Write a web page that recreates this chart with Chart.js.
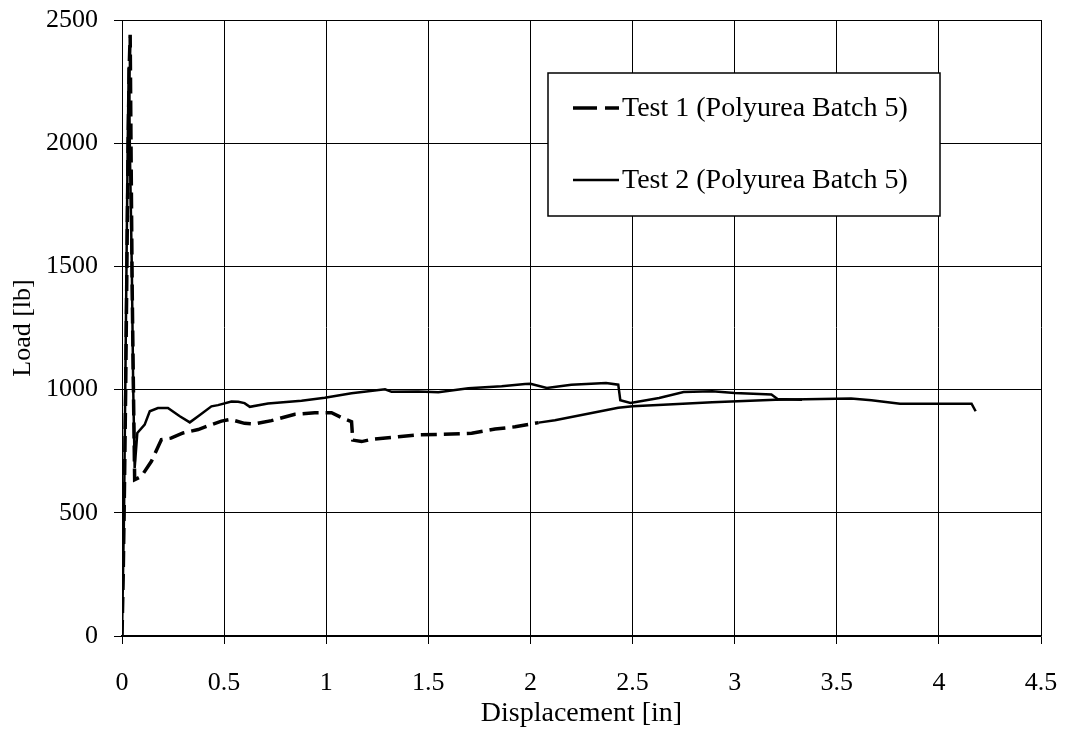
<!DOCTYPE html>
<html>
<head>
<meta charset="utf-8">
<script src="https://cdn.jsdelivr.net/npm/chart.js@4.4.1/dist/chart.umd.min.js"></script>
<style>
  html, body { margin: 0; padding: 0; background: #fff; }
  #load-chart { display: block; }
</style>
</head>
<body>
<canvas id="load-chart" width="1065" height="730"></canvas>
<script>
const seriesNames = ["Test 1 (Polyurea Batch 5)", "Test 2 (Polyurea Batch 5)"];
const xTicks = [0, 0.5, 1, 1.5, 2, 2.5, 3, 3.5, 4, 4.5];
const yTicks = [0, 500, 1000, 1500, 2000, 2500];

// Test 1 - displacement [in] / load [lb]
const test1X = [0, 0.006, 0.012, 0.018, 0.024, 0.03, 0.035, 0.04, 0.045, 0.05, 0.056, 0.062,
  0.095, 0.144, 0.193, 0.24, 0.299, 0.373, 0.438, 0.487, 0.53, 0.6, 0.645, 0.732, 0.847,
  0.944, 1.026, 1.083, 1.124, 1.13, 1.173, 1.222, 1.353, 1.451, 1.614, 1.712, 1.827, 1.925,
  2.04, 2.12, 2.43, 2.5, 2.65, 2.89, 3.2, 3.57, 3.67, 3.81, 4.0, 4.16, 4.18];
const test1Y = [0, 250, 600, 1000, 1500, 2000, 2300, 2440, 1900, 1400, 1000, 634,
  648, 709, 797, 803, 824, 838, 858, 872, 879, 863, 860, 874, 900,
  906, 906, 883, 870, 795, 789, 798, 809, 816, 820, 823, 840, 849,
  866, 876, 926, 932, 939, 949, 959, 964, 957, 943, 943, 943, 912];

// Test 2
const test2X = [0, 0.01, 0.016, 0.022, 0.028, 0.033, 0.04, 0.048, 0.055, 0.062, 0.075,
  0.111, 0.136, 0.176, 0.225, 0.283, 0.332, 0.373, 0.438, 0.47, 0.536, 0.569, 0.6, 0.626,
  0.715, 0.879, 0.993, 1.124, 1.288, 1.32, 1.451, 1.549, 1.696, 1.859, 1.974, 2.0, 2.08,
  2.2, 2.37, 2.43, 2.44, 2.49, 2.63, 2.75, 2.89, 3.0, 3.18, 3.21, 3.33];
const test2Y = [0, 500, 1000, 1500, 2000, 2310, 1900, 1500, 1000, 682, 824,
  858, 912, 925, 925, 892, 867, 892, 932, 937, 952, 951, 945, 930,
  944, 955, 967, 985, 1001, 991, 992, 989, 1005, 1014, 1023, 1024, 1007,
  1020, 1027, 1020, 957, 946, 966, 990, 993, 986, 980, 962, 959];

function toPoints(xs, ys) {
  return xs.map((x, i) => ({ x: x, y: ys[i] }));
}

const serif = "'Liberation Serif', 'Times New Roman', serif";

// legend drawn inside the plot area, as in the original
const boxLegend = {
  id: "boxLegend",
  afterDraw(chart) {
    const ctx = chart.ctx;
    const left = 548, top = 73, right = 940, bottom = 216;
    ctx.save();
    ctx.fillStyle = "#fff";
    ctx.fillRect(left, top, right - left, bottom - top);
    ctx.strokeStyle = "#000";
    ctx.lineWidth = 1.5;
    ctx.strokeRect(left, top, right - left, bottom - top);
    const rows = [108, 180];
    chart.data.datasets.forEach((ds, i) => {
      const y = rows[i];
      ctx.beginPath();
      ctx.lineWidth = ds.borderWidth;
      ctx.setLineDash(ds.borderDash ? [24, 8] : []);
      ctx.moveTo(573, y);
      ctx.lineTo(619, y);
      ctx.stroke();
      ctx.setLineDash([]);
      ctx.fillStyle = "#000";
      ctx.font = "28px " + serif;
      ctx.textAlign = "left";
      ctx.textBaseline = "middle";
      ctx.fillText(ds.label, 622, y + 1);
    });
    ctx.restore();
  }
};

new Chart(document.getElementById("load-chart"), {
  type: "scatter",
  data: {
    datasets: [
      {
        label: seriesNames[0],
        data: toPoints(test1X, test1Y),
        showLine: true,
        borderColor: "#000",
        borderWidth: 3.5,
        borderDash: [16, 7],
        pointRadius: 0,
        tension: 0,
        segment: {
          borderDash: (ctx) => (ctx.p0.parsed.x >= 1.95 ? [] : undefined),
          borderWidth: (ctx) => (ctx.p0.parsed.x >= 1.95 ? 2.5 : undefined),
        },
      },
      {
        label: seriesNames[1],
        data: toPoints(test2X, test2Y),
        showLine: true,
        borderColor: "#000",
        borderWidth: 2.5,
        pointRadius: 0,
        tension: 0,
      },
    ],
  },
  options: {
    responsive: false,
    animation: false,
    devicePixelRatio: 1,
    layout: { padding: { left: 0, right: 24, top: 20, bottom: 0 } },
    plugins: { legend: { display: false }, tooltip: { enabled: false } },
    scales: {
      x: {
        type: "linear",
        min: 0,
        max: 4.5,
        afterBuildTicks: (axis) => { axis.ticks = xTicks.map((v) => ({ value: v })); },
        afterFit: (axis) => {
          axis.height = 94;
          axis.paddingLeft = 0;
          axis.paddingRight = 0;
        },
        grid: { color: "#000", lineWidth: 1, tickLength: 8, tickColor: "#000" },
        border: { color: "#000", width: 1.5 },
        ticks: {
          color: "#000",
          font: { family: serif, size: 26 },
          padding: 24,
          maxRotation: 0,
          callback: (v) => String(v),
        },
        title: { display: true, text: "Displacement [in]", color: "#000", font: { family: serif, size: 28 }, padding: { top: 0, bottom: 0 } },
      },
      y: {
        type: "linear",
        min: 0,
        max: 2500,
        afterBuildTicks: (axis) => { axis.ticks = yTicks.map((v) => ({ value: v })); },
        afterFit: (axis) => {
          axis.width = 122;
          axis.paddingTop = 0;
          axis.paddingBottom = 0;
        },
        grid: { color: "#000", lineWidth: 1, tickLength: 8, tickColor: "#000" },
        border: { color: "#000", width: 1 },
        ticks: { color: "#000", font: { family: serif, size: 26 }, padding: 16, callback: (v) => String(v) },
        title: { display: true, text: "Load [lb]", color: "#000", font: { family: serif, size: 26 }, padding: { top: 8, bottom: 0 } },
      },
    },
  },
  plugins: [boxLegend],
});
</script>
</body>
</html>
